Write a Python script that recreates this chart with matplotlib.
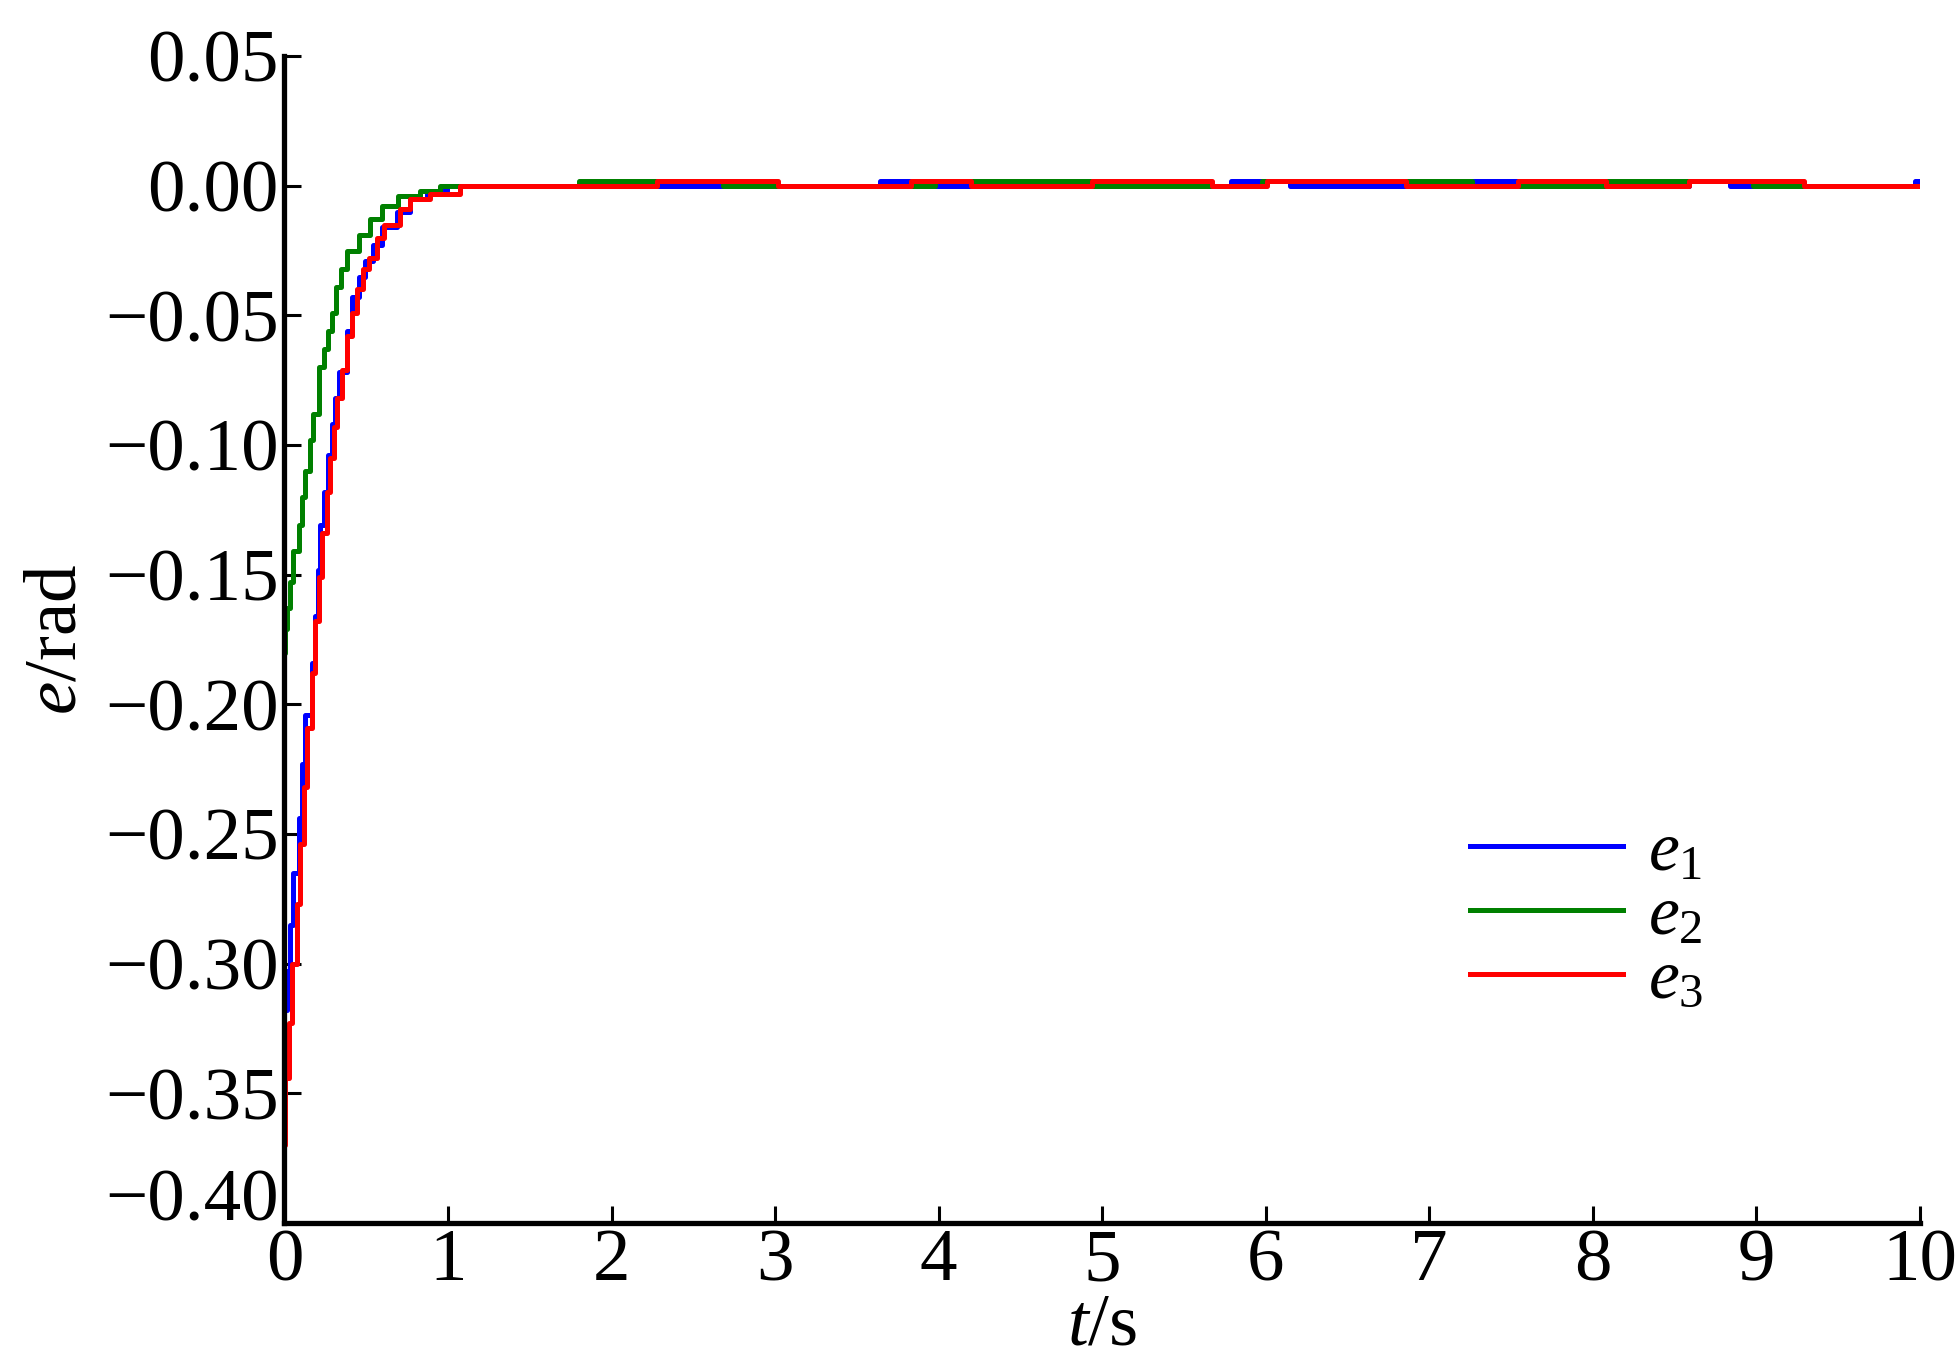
import matplotlib
matplotlib.use("Agg")
import numpy as np
import matplotlib.pyplot as plt
from matplotlib.transforms import ScaledTranslation

plt.rcParams["font.family"] = ["Liberation Serif", "DejaVu Serif"]
plt.rcParams["mathtext.fontset"] = "custom"
plt.rcParams["mathtext.rm"] = "Liberation Serif"
plt.rcParams["mathtext.it"] = "Liberation Serif:italic"

# transient (step) breakpoints: time in s, error in rad
t_e1 = [0.0, 0.015, 0.035, 0.055, 0.086, 0.106, 0.127, 0.168, 0.188, 0.208, 0.218,
        0.239, 0.269, 0.290, 0.310, 0.331, 0.385, 0.412, 0.453, 0.493, 0.544, 0.595,
        0.687, 0.768, 0.870, 0.992]
v_e1 = [-0.318, -0.303, -0.285, -0.265, -0.244, -0.223, -0.204, -0.184, -0.166, -0.148,
        -0.131, -0.118, -0.104, -0.092, -0.082, -0.072, -0.056, -0.043, -0.035, -0.029,
        -0.023, -0.016, -0.010, -0.005, -0.002, 0.0]

t_e2 = [0.0, 0.004, 0.014, 0.035, 0.051, 0.086, 0.106, 0.127, 0.157, 0.177, 0.214,
        0.239, 0.269, 0.290, 0.316, 0.344, 0.381, 0.453, 0.524, 0.596, 0.697, 0.829, 0.952]
v_e2 = [-0.180, -0.171, -0.163, -0.153, -0.141, -0.131, -0.120, -0.110, -0.098, -0.088,
        -0.070, -0.063, -0.056, -0.049, -0.039, -0.032, -0.025, -0.019, -0.013, -0.008,
        -0.004, -0.002, 0.0]

t_e3 = [0.0, 0.004, 0.025, 0.045, 0.076, 0.096, 0.117, 0.137, 0.168, 0.188, 0.214,
        0.229, 0.259, 0.280, 0.300, 0.320, 0.351, 0.381, 0.412, 0.443, 0.483, 0.514,
        0.565, 0.606, 0.707, 0.768, 0.890, 1.074]
v_e3 = [-0.370, -0.344, -0.323, -0.300, -0.277, -0.254, -0.232, -0.209, -0.188, -0.168,
        -0.151, -0.134, -0.118, -0.105, -0.093, -0.082, -0.071, -0.058, -0.049, -0.040,
        -0.032, -0.028, -0.020, -0.015, -0.009, -0.005, -0.003, 0.0]

# small quantisation bumps after convergence: (start, end) in s, level in rad
hi_e1 = [(3.64, 3.98), (5.79, 6.15), (7.26, 7.54), (8.59, 8.84), (9.97, 10.0)]
hi_e2 = [(1.80, 2.68), (3.98, 4.94), (5.98, 7.26), (8.08, 8.98)]
hi_e3 = [(2.28, 3.02), (3.83, 4.20), (4.94, 5.67), (6.01, 6.86), (7.54, 8.08), (8.59, 9.29)]
hi_level = 0.002

y_ticks = [-0.40, -0.35, -0.30, -0.25, -0.20, -0.15, -0.10, -0.05, 0.00, 0.05]
y_ticklabels = ["\u22120.40", "\u22120.35", "\u22120.30", "\u22120.25", "\u22120.20",
                "\u22120.15", "\u22120.10", "\u22120.05", "0.00", "0.05"]


def series(t0, v0, highs):
    t = list(t0)
    v = list(v0)
    for a, b in highs:
        t += [a, b]
        v += [hi_level, 0.0]
    t.append(10.0)
    v.append(v[-1])
    return np.array(t), np.array(v)


fig = plt.figure(figsize=(19.55, 13.68), dpi=100)
ax = fig.add_axes([0.1455, 0.106, 0.8365, 0.853])

for (t0, v0, hi, col, lab) in [(t_e1, v_e1, hi_e1, "#0000ff", "$e_1$"),
                               (t_e2, v_e2, hi_e2, "#008000", "$e_2$"),
                               (t_e3, v_e3, hi_e3, "#ff0000", "$e_3$")]:
    t, v = series(t0, v0, hi)
    ax.plot(t, v, drawstyle="steps-post", color=col, lw=3.6, label=lab)

ax.set_xlim(0, 10)
ax.set_ylim(-0.40, 0.05)
ax.set_xticks(np.arange(0, 11, 1))
ax.set_yticks(y_ticks)
ax.set_yticklabels(y_ticklabels)

for s in ["top", "right"]:
    ax.spines[s].set_visible(False)
for s in ["left", "bottom"]:
    ax.spines[s].set_linewidth(3.8)
ax.tick_params(direction="in", length=12, width=2.2, labelsize=54)
ax.tick_params(axis="y", pad=4)
ax.tick_params(axis="x", pad=4)

# bottom y label sits a little above its tick, clear of the "0"
lab0 = ax.get_yticklabels()[0]
lab0.set_transform(lab0.get_transform() + ScaledTranslation(0, 0.28, fig.dpi_scale_trans))

ax.set_xlabel("$t$/s", fontsize=54, labelpad=-2)
ax.set_ylabel("$e$/rad", fontsize=54, labelpad=10)

ax.legend(loc="upper left", bbox_to_anchor=(0.704, 0.3734), frameon=False, fontsize=50,
          handlelength=2.19, handletextpad=0.36, labelspacing=0.0, borderpad=0)

fig.savefig("out.png", dpi=100)
